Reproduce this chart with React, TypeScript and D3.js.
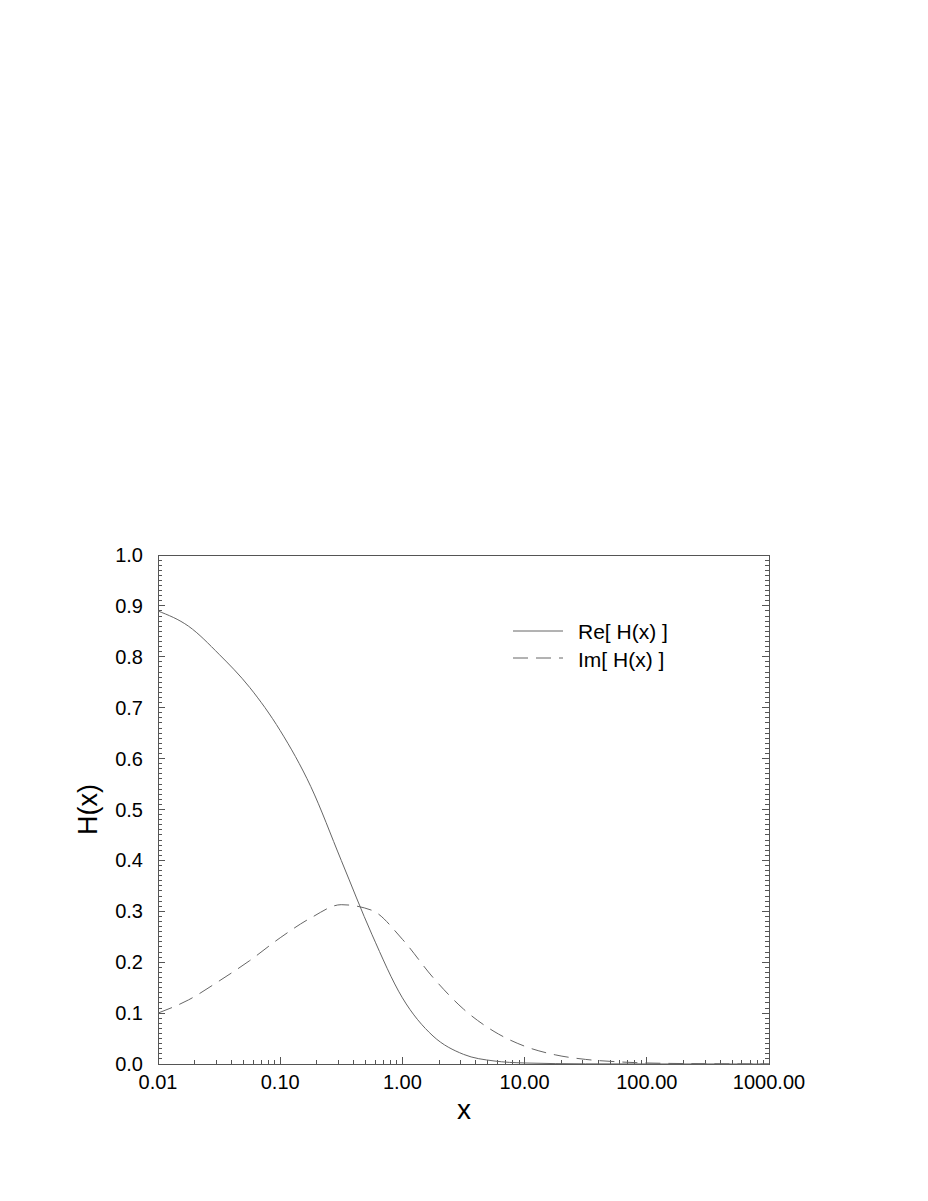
import * as d3 from "d3";

// values, every quarter decade
const reX = [0.01, 0.0178, 0.0316, 0.0562, 0.1, 0.178, 0.316, 0.562, 1, 1.78, 3.16, 5.62, 10, 31.6, 100, 1000];
const reV = [0.89, 0.86, 0.805, 0.74, 0.655, 0.545, 0.40, 0.255, 0.13, 0.055, 0.019, 0.006, 0.002, 0.0003, 0.0001, 0];
const imX = [0.01, 0.0178, 0.0316, 0.0562, 0.1, 0.178, 0.316, 0.562, 1, 1.78, 3.16, 5.62, 10, 17.8, 31.6, 56.2, 100, 316, 1000];
const imV = [0.1, 0.126, 0.163, 0.203, 0.248, 0.287, 0.313, 0.302, 0.245, 0.17, 0.108, 0.064, 0.035, 0.018, 0.009, 0.0045, 0.002, 0.0005, 0];

const xTickLabels = ["0.01", "0.10", "1.00", "10.00", "100.00", "1000.00"];
const yTickLabels = ["0.0", "0.1", "0.2", "0.3", "0.4", "0.5", "0.6", "0.7", "0.8", "0.9", "1.0"];
const legendLabels = ["Re[ H(x) ]", "Im[ H(x) ]"];

const width = 928;
const height = 1201;
const left = 158;
const right = 769;
const top = 555;
const bottom = 1064;
const font = "'Liberation Sans', Arial, Helvetica, sans-serif";
const axisColor = "#555";
const lineColor = "#666";

const App = () => {
    const x = d3.scaleLog().domain([0.01, 1000]).range([left, right]);
    const y = d3.scaleLinear().domain([0, 1]).range([bottom, top]);

    const line = d3.line<{ x: number, v: number }>()
        .x(d => x(d.x))
        .y(d => y(d.v))
        .curve(d3.curveMonotoneX);

    const re = reX.map((xx, i) => ({ x: xx, v: reV[i] }));
    const im = imX.map((xx, i) => ({ x: xx, v: imV[i] }));

    const xMajor = xTickLabels.map(t => +t);
    const xMinor = x.ticks().filter(t => !xMajor.some(m => Math.abs(m - t) / m < 1e-6));
    const yMinor = d3.range(0, 101).filter(i => i % 10 !== 0).map(i => i / 100);

    return (
        <svg width={width} height={height} style={{ position: 'absolute', left: 0, top: 0, background: '#fff' }}>
            <g stroke={axisColor} strokeWidth={1} fill="none" shapeRendering="crispEdges">
                <rect x={left} y={top} width={right - left} height={bottom - top} />
                { xMajor.map((t, i) => <line key={'xM' + i} x1={x(t)} x2={x(t)} y1={bottom} y2={bottom - 7} />) }
                { xMinor.map((t, i) => <line key={'xm' + i} x1={x(t)} x2={x(t)} y1={bottom} y2={bottom - 4} />) }
                { yTickLabels.map((t, i) => (
                    <g key={'yM' + i}>
                        <line x1={left} x2={left + 7} y1={y(+t)} y2={y(+t)} />
                        <line x1={right} x2={right - 7} y1={y(+t)} y2={y(+t)} />
                    </g>
                )) }
                { yMinor.map((t, i) => (
                    <g key={'ym' + i}>
                        <line x1={left} x2={left + 4} y1={y(t)} y2={y(t)} />
                        <line x1={right} x2={right - 4} y1={y(t)} y2={y(t)} />
                    </g>
                )) }
            </g>
            <g fontFamily={font} fontSize={20} fill="#000">
                { xTickLabels.map((t, i) => (
                    <text key={i} x={x(+t)} y={1089} textAnchor="middle">{t}</text>
                )) }
                { yTickLabels.map((t, i) => (
                    <text key={i} x={143} y={y(+t)} dy="0.35em" textAnchor="end">{t}</text>
                )) }
            </g>
            <text x={464} y={1119} textAnchor="middle" fontFamily={font} fontSize={28}>x</text>
            <text transform={`translate(97,${(top + bottom) / 2}) rotate(-90)`} textAnchor="middle" fontFamily={font} fontSize={27}>H(x)</text>

            <path d={line(re) ?? ''} fill="none" stroke={lineColor} strokeWidth={1} />
            <path d={line(im) ?? ''} fill="none" stroke={lineColor} strokeWidth={1} strokeDasharray="15,8" />

            <g fontFamily={font} fontSize={21}>
                <line x1={513} x2={563} y1={631} y2={631} stroke={lineColor} />
                <text x={578} y={639}>{legendLabels[0]}</text>
                <line x1={513} x2={563} y1={658} y2={658} stroke={lineColor} strokeDasharray="15,8" />
                <text x={578} y={666.5}>{legendLabels[1]}</text>
            </g>
        </svg>
    );
};

export default App;
